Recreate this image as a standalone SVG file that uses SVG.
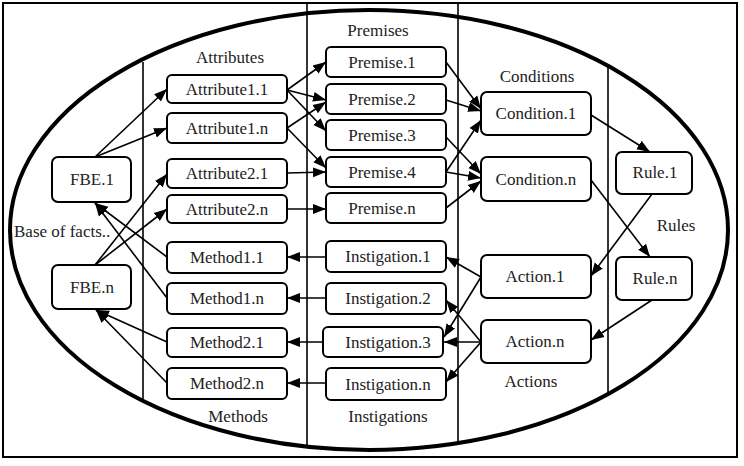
<svg xmlns="http://www.w3.org/2000/svg" width="744" height="466" viewBox="0 0 744 466">
<defs>
<marker id="ah" markerUnits="userSpaceOnUse" markerWidth="14" markerHeight="12" refX="13" refY="6" orient="auto">
<path d="M0,1 L13,6 L0,11 Z" fill="#000"/>
</marker>
<style>
.box{fill:#fff;stroke:#000;stroke-width:2}
.t{font-family:"Liberation Serif","Times New Roman",serif;font-size:17px;fill:#222;text-anchor:middle}
.c{stroke:#000;stroke-width:1.6;fill:none;marker-end:url(#ah)}
.frame{fill:#fff;stroke:#000;stroke-width:2}
.div{stroke:#000;stroke-width:1.6}
</style>
</defs>
<rect class="frame" x="3" y="3" width="734" height="454"/>
<ellipse cx="369" cy="230" rx="359" ry="220" fill="none" stroke="#000" stroke-width="4"/>
<g id="dividers">
<line class="div" x1="143" y1="62" x2="143" y2="399"/>
<line class="div" x1="307" y1="3" x2="307" y2="448"/>
<line class="div" x1="458" y1="3" x2="458" y2="441"/>
<line class="div" x1="608" y1="67" x2="608" y2="393"/>
</g>
<g id="labels">
<text class="t" x="230" y="63">Attributes</text>
<text class="t" x="378" y="36">Premises</text>
<text class="t" x="537" y="82">Conditions</text>
<text class="t" x="676" y="231">Rules</text>
<text class="t" x="531" y="387">Actions</text>
<text class="t" x="388" y="422">Instigations</text>
<text class="t" x="238" y="422">Methods</text>
<text class="t" x="14" y="237" style="text-anchor:start">Base of facts..</text>
</g>
<g id="connectors">
<line class="c" x1="95" y1="157" x2="167" y2="89"/>
<line class="c" x1="95" y1="157" x2="167" y2="128"/>
<line class="c" x1="95" y1="265" x2="167" y2="174"/>
<line class="c" x1="95" y1="265" x2="167" y2="209"/>
<line class="c" x1="167" y1="257" x2="95" y2="203"/>
<line class="c" x1="167" y1="298" x2="95" y2="203"/>
<line class="c" x1="167" y1="342" x2="96" y2="310"/>
<line class="c" x1="167" y1="383" x2="96" y2="310"/>
<line class="c" x1="287" y1="90" x2="326" y2="62"/>
<line class="c" x1="287" y1="90" x2="326" y2="100"/>
<line class="c" x1="287" y1="90" x2="326" y2="131"/>
<line class="c" x1="287" y1="128" x2="326" y2="102"/>
<line class="c" x1="287" y1="128" x2="326" y2="168"/>
<line class="c" x1="287" y1="173" x2="326" y2="172"/>
<line class="c" x1="287" y1="209" x2="326" y2="209"/>
<line class="c" x1="446" y1="62" x2="481" y2="109"/>
<line class="c" x1="446" y1="100" x2="481" y2="111"/>
<line class="c" x1="446" y1="172" x2="481" y2="120"/>
<line class="c" x1="446" y1="137" x2="481" y2="174"/>
<line class="c" x1="446" y1="172" x2="481" y2="178"/>
<line class="c" x1="446" y1="208" x2="481" y2="181"/>
<line class="c" x1="591" y1="115" x2="650" y2="152"/>
<line class="c" x1="591" y1="180" x2="650" y2="257"/>
<line class="c" x1="652" y1="194" x2="591" y2="276"/>
<line class="c" x1="652" y1="300" x2="591" y2="340"/>
<line class="c" x1="481" y1="277" x2="446" y2="257"/>
<line class="c" x1="481" y1="277" x2="444" y2="337"/>
<line class="c" x1="481" y1="342" x2="446" y2="300"/>
<line class="c" x1="481" y1="342" x2="444" y2="342"/>
<line class="c" x1="481" y1="342" x2="446" y2="382"/>
<line class="c" x1="326" y1="257" x2="287" y2="257"/>
<line class="c" x1="326" y1="298" x2="287" y2="298"/>
<line class="c" x1="323" y1="342" x2="287" y2="342"/>
<line class="c" x1="326" y1="383" x2="287" y2="383"/>
</g>
<g id="fbe1"><rect class="box" x="52" y="157" width="79" height="45" rx="6"/><text class="t" x="92" y="185">FBE.1</text></g>
<g id="fben"><rect class="box" x="52" y="265" width="79" height="44" rx="6"/><text class="t" x="92" y="293">FBE.n</text></g>
<g id="attr11"><rect class="box" x="167" y="75" width="120" height="28" rx="5"/><text class="t" x="227" y="95">Attribute1.1</text></g>
<g id="attr1n"><rect class="box" x="167" y="113" width="120" height="30" rx="5"/><text class="t" x="227" y="134">Attribute1.n</text></g>
<g id="attr21"><rect class="box" x="167" y="159" width="120" height="29" rx="5"/><text class="t" x="227" y="179">Attribute2.1</text></g>
<g id="attr2n"><rect class="box" x="167" y="195" width="120" height="28" rx="5"/><text class="t" x="227" y="215">Attribute2.n</text></g>
<g id="meth11"><rect class="box" x="167" y="242" width="120" height="31" rx="5"/><text class="t" x="227" y="263">Method1.1</text></g>
<g id="meth1n"><rect class="box" x="167" y="283" width="120" height="31" rx="5"/><text class="t" x="227" y="304">Method1.n</text></g>
<g id="meth21"><rect class="box" x="167" y="328" width="120" height="29" rx="5"/><text class="t" x="227" y="348">Method2.1</text></g>
<g id="meth2n"><rect class="box" x="167" y="368" width="120" height="31" rx="5"/><text class="t" x="227" y="389">Method2.n</text></g>
<g id="prem1"><rect class="box" x="326" y="47" width="120" height="30" rx="5"/><text class="t" x="382" y="68">Premise.1</text></g>
<g id="prem2"><rect class="box" x="326" y="84" width="120" height="30" rx="5"/><text class="t" x="382" y="105">Premise.2</text></g>
<g id="prem3"><rect class="box" x="326" y="120" width="120" height="30" rx="5"/><text class="t" x="382" y="141">Premise.3</text></g>
<g id="prem4"><rect class="box" x="326" y="157" width="120" height="30" rx="5"/><text class="t" x="382" y="178">Premise.4</text></g>
<g id="premn"><rect class="box" x="326" y="193" width="120" height="30" rx="5"/><text class="t" x="382" y="214">Premise.n</text></g>
<g id="inst1"><rect class="box" x="326" y="241" width="120" height="31" rx="5"/><text class="t" x="388" y="262">Instigation.1</text></g>
<g id="inst2"><rect class="box" x="326" y="283" width="120" height="31" rx="5"/><text class="t" x="388" y="304">Instigation.2</text></g>
<g id="inst3"><rect class="box" x="323" y="327" width="120" height="30" rx="5"/><text class="t" x="388" y="348">Instigation.3</text></g>
<g id="instn"><rect class="box" x="326" y="368" width="120" height="32" rx="5"/><text class="t" x="388" y="390">Instigation.n</text></g>
<g id="cond1"><rect class="box" x="481" y="92" width="110" height="43" rx="6"/><text class="t" x="536" y="119">Condition.1</text></g>
<g id="condn"><rect class="box" x="481" y="157" width="110" height="44" rx="6"/><text class="t" x="536" y="185">Condition.n</text></g>
<g id="act1"><rect class="box" x="481" y="255" width="110" height="43" rx="6"/><text class="t" x="535" y="282">Action.1</text></g>
<g id="actn"><rect class="box" x="481" y="320" width="110" height="43" rx="6"/><text class="t" x="535" y="347">Action.n</text></g>
<g id="rule1"><rect class="box" x="616" y="152" width="76" height="42" rx="6"/><text class="t" x="655" y="178">Rule.1</text></g>
<g id="rulen"><rect class="box" x="616" y="257" width="76" height="43" rx="6"/><text class="t" x="655" y="284">Rule.n</text></g>
</svg>
